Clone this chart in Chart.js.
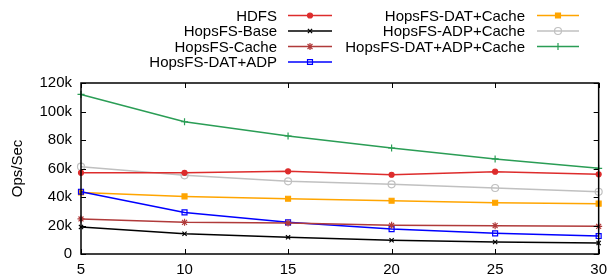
<!DOCTYPE html>
<html>
<head>
<meta charset="utf-8">
<script src="https://cdn.jsdelivr.net/npm/chart.js@4/dist/chart.umd.min.js"></script>
<style>
  html, body { margin: 0; padding: 0; background: #fff; }
  #wrap { width: 614px; height: 277px; }
</style>
</head>
<body>
<div id="wrap"><canvas id="chart" width="614" height="277"></canvas></div>
<script>
// Data
const clients = [5, 10, 15, 20, 25, 30];
const hdfs          = [57000, 57000, 58000, 55600, 57800, 55900];
const hopsBase      = [18900, 14200, 11700, 9600, 8400, 7700];
const hopsCache     = [24600, 22200, 21700, 20100, 19900, 19400];
const hopsDatAdp    = [43700, 29200, 22200, 17500, 14500, 12600];
const hopsDatCache  = [43200, 40400, 38800, 37400, 36000, 35300];
const hopsAdpCache  = [61300, 55200, 51000, 48900, 46300, 43700];
const hopsAll       = [112000, 92800, 82800, 74400, 66700, 60100];

const FONT = "'Liberation Sans', Arial, Helvetica, sans-serif";

function series(label, values, color, style, radius, filled) {
    return {
        label: label,
        data: clients.map((c, i) => ({ x: c, y: values[i] })),
        borderColor: color,
        backgroundColor: filled ? color : 'rgba(0,0,0,0)',
        pointBorderColor: color,
        pointBackgroundColor: filled ? color : 'rgba(0,0,0,0)',
        pointStyle: style,
        pointRadius: radius,
        pointBorderWidth: 1.2,
        borderWidth: 1.5,
        tension: 0,
        fill: false,
        clip: false
    };
}

const datasets = [
    series('HDFS', hdfs, '#dd2c2c', 'circle', 2.5, true),
    series('HopsFS-Base', hopsBase, '#000000', 'crossRot', 3, false),
    series('HopsFS-Cache', hopsCache, '#b03a3a', 'star', 3.5, false),
    series('HopsFS-DAT+ADP', hopsDatAdp, '#0000ff', 'rect', 3.5, false),
    series('HopsFS-DAT+Cache', hopsDatCache, '#ffa500', 'rect', 3.5, true),
    series('HopsFS-ADP+Cache', hopsAdpCache, '#c0c0c0', 'circle', 3.5, false),
    series('HopsFS-DAT+ADP+Cache', hopsAll, '#2a9d55', 'cross', 3.5, false)
];

// legend placement: [textRight, lineStart, lineEnd, y]
const legendSlots = [
    [277, 288, 332, 15.5],
    [277, 288, 332, 31],
    [277, 288, 332, 46.5],
    [277, 288, 332, 62],
    [525, 537, 579, 15.5],
    [525, 537, 579, 31],
    [525, 537, 579, 46.5]
];

// gnuplot-like frame, inward ticks, legend and y title
const framePlugin = {
    id: 'frame',
    afterDraw(chart) {
        const ctx = chart.ctx;
        const a = chart.chartArea;
        const xs = chart.scales.x, ys = chart.scales.y;
        const tl = 5;
        ctx.save();
        ctx.strokeStyle = '#000';
        ctx.lineWidth = 1;
        ctx.beginPath();
        ys.ticks.forEach(t => {
            const y = Math.round(ys.getPixelForValue(t.value)) + 0.5;
            ctx.moveTo(a.left, y); ctx.lineTo(a.left + tl, y);
            ctx.moveTo(a.right, y); ctx.lineTo(a.right - tl, y);
        });
        xs.ticks.forEach(t => {
            const x = Math.round(xs.getPixelForValue(t.value)) + 0.5;
            ctx.moveTo(x, a.bottom); ctx.lineTo(x, a.bottom - tl);
            ctx.moveTo(x, a.top); ctx.lineTo(x, a.top + tl);
        });
        ctx.stroke();
        ctx.lineWidth = 1.5;
        ctx.strokeRect(a.left, a.top, a.right - a.left, a.bottom - a.top);

        // y title
        ctx.fillStyle = '#000';
        ctx.font = '15px ' + FONT;
        ctx.textAlign = 'center';
        ctx.textBaseline = 'middle';
        ctx.translate(17.5, 168.5);
        ctx.rotate(-Math.PI / 2);
        ctx.fillText('Ops/Sec', 0, 0);
        ctx.restore();

        // legend
        ctx.save();
        chart.data.datasets.forEach((ds, i) => {
            const [tr, l0, l1, y] = legendSlots[i];
            ctx.fillStyle = '#000';
            ctx.font = '15px ' + FONT;
            ctx.textAlign = 'right';
            ctx.textBaseline = 'middle';
            ctx.fillText(ds.label, tr, y + 1);
            ctx.strokeStyle = ds.borderColor;
            ctx.lineWidth = ds.borderWidth;
            ctx.beginPath();
            ctx.moveTo(l0, y); ctx.lineTo(l1, y);
            ctx.stroke();
            ctx.fillStyle = ds.pointBackgroundColor;
            ctx.strokeStyle = ds.pointBorderColor;
            ctx.lineWidth = ds.pointBorderWidth;
            Chart.helpers.drawPoint(ctx, {
                pointStyle: ds.pointStyle,
                radius: ds.pointRadius,
                borderWidth: ds.pointBorderWidth,
                rotation: 0
            }, (l0 + l1) / 2, y);
        });
        ctx.restore();
    }
};

new Chart(document.getElementById('chart'), {
    type: 'line',
    data: { datasets: datasets },
    options: {
        responsive: false,
        animation: false,
        devicePixelRatio: 1,
        layout: { padding: { top: 83, right: 14, left: 0, bottom: 0 } },
        plugins: {
            legend: { display: false },
            tooltip: { enabled: false }
        },
        scales: {
            x: {
                type: 'linear',
                min: 5, max: 30,
                grid: { display: false, drawTicks: false },
                border: { display: false },
                ticks: {
                    stepSize: 5,
                    padding: 7,
                    color: '#000',
                    font: { family: FONT, size: 15 },
                    maxRotation: 0
                },
                afterFit(scale) { scale.height = 23; }
            },
            y: {
                min: 0, max: 120000,
                grid: { display: false, drawTicks: false },
                border: { display: false },
                ticks: {
                    stepSize: 20000,
                    padding: 9,
                    color: '#000',
                    font: { family: FONT, size: 15 },
                    callback: v => v === 0 ? '0' : (v / 1000) + 'k'
                },
                afterFit(scale) { scale.width = 81; }
            }
        }
    },
    plugins: [framePlugin]
});
</script>
</body>
</html>
